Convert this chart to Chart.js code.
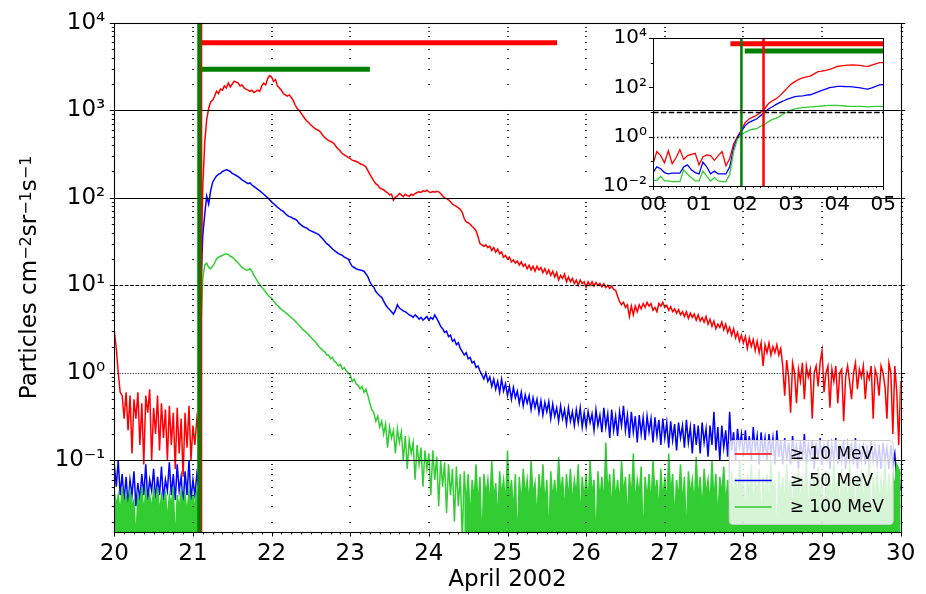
<!DOCTYPE html>
<html>
<head>
<meta charset="utf-8">
<title>Proton flux, April 2002</title>
<script src="https://cdn.jsdelivr.net/npm/chart.js@4.4.1/dist/chart.umd.min.js"></script>
<style>
  html, body { margin: 0; padding: 0; background: #fff; }
  #wrap { position: relative; width: 926px; height: 594px; }
  #main { position: absolute; left: 0; top: 0; }
  #inset { position: absolute; left: 585px; top: 20px; }
</style>
</head>
<body>
<div id="wrap">
  <canvas id="main" width="926" height="594"></canvas>
  <canvas id="inset" width="318" height="200"></canvas>
</div>
<script>
// integral proton flux, 20-30 April 2002, sampled every 0.025 day
const dayStart = 20;
const dayStep = 0.025;

const p10 = [
  3.0, 1.9, 1.0, 0.6, 0.55, 0.3, 0.6, 0.22, 0.55, 0.12, 0.5, 0.3, 0.6, 0.15, 0.45, 0.09, 0.55, 0.35, 0.65, 0.1,
  0.4, 0.2, 0.55, 0.13, 0.45, 0.18, 0.38, 0.1, 0.42, 0.15, 0.35, 0.08, 0.4, 0.12, 0.3, 0.065, 0.35, 0.14, 0.42, 0.1,
  0.25, 0.15, 0.3, 0.2, 13, 135, 430, 790, 1050, 1250, 1300, 1450, 1650, 1550, 1750, 1700, 1900, 1800, 2050, 1850,
  2000, 2150, 2100, 2050, 1900, 1950, 1800, 1750, 1700, 1650, 1700, 1600, 1650, 1700, 1650, 1900, 2050, 1950, 2300, 2500,
  2400, 2150, 2250, 1900, 1800, 1700, 1550, 1500, 1450, 1500, 1400, 1300, 1150, 1050, 1000, 930, 860, 800, 750, 720,
  680, 650, 620, 600, 590, 560, 520, 490, 470, 450, 440, 430, 410, 380, 360, 340, 320, 310, 300, 290,
  280, 270, 265, 260, 255, 245, 240, 235, 225, 205, 185, 170, 155, 145, 140, 130, 126, 124, 118, 115,
  108, 110, 94, 102, 105, 112, 108, 103, 110, 106, 104, 110, 107, 112, 115, 117, 115, 120, 118, 122,
  117, 115, 118, 116, 119, 117, 112, 105, 100, 98, 95, 90, 85, 82, 80, 77, 74, 68, 58, 53,
  52, 50, 47, 45, 42, 36, 30, 29, 28, 29, 27, 28, 25, 27, 24, 26, 23, 24, 21, 22,
  20, 21, 18.5, 19.5, 18, 19, 17, 18.5, 16.5, 17.5, 15.5, 17, 15, 16.5, 14.5, 16.5, 15, 16, 14, 15.5,
  13.5, 15, 13, 14.5, 12.5, 14, 11.5, 13, 12, 13.5, 11, 12.5, 11, 12, 10.5, 11.5, 10, 11.5, 10.5, 11,
  9.5, 11, 10, 11, 9.8, 10.8, 10, 10.5, 9.6, 10.4, 9.4, 10, 9.2, 9.8, 9.0, 8.8, 7.5, 6.5, 6.0, 6.4,
  5.6, 6.0, 4.4, 5.8, 4.6, 5.8, 5.0, 6.0, 5.4, 6.2, 5.6, 6.4, 5.8, 6.2, 5.2, 5.6, 5.0, 6.2, 5.8, 6.4,
  5.6, 5.9, 5.2, 5.7, 5.0, 5.4, 4.8, 5.3, 4.6, 5.0, 4.4, 5.0, 4.2, 4.8, 4.3, 4.7, 4.0, 4.6, 3.9, 4.3,
  3.8, 4.4, 3.6, 4.1, 3.4, 3.9, 3.2, 3.6, 3.3, 3.8, 3.1, 3.6, 2.9, 3.3, 2.7, 3.2, 2.5, 2.9, 2.3, 2.7,
  2.2, 2.6, 1.9, 2.5, 2.0, 2.4, 1.8, 2.3, 1.7, 2.2, 1.2, 2.1, 1.7, 2.2, 1.6, 2.0, 1.7, 2.1, 1.6, 1.9,
  1.2, 0.55, 1.4, 0.9, 0.35, 1.3, 1.0, 0.45, 1.1, 0.8, 1.3, 0.5, 1.2, 0.9, 1.1, 0.3, 1.0, 1.2, 0.7, 1.3,
  1.8, 0.6, 1.0, 1.2, 0.4, 1.1, 0.8, 1.2, 0.45, 1.0, 1.1, 0.28, 0.9, 1.2, 0.8, 0.5, 1.0, 1.3, 0.65, 1.1,
  0.9, 1.2, 0.5, 1.0, 0.85, 1.2, 0.3, 1.1, 0.9, 0.55, 1.2, 1.0, 0.7, 0.3, 1.3, 1.0, 0.2, 1.2, 0.6, 0.15,
  0.8
];

const p50 = [
  0.09, 0.05, 0.1, 0.04, 0.07, 0.035, 0.065, 0.03, 0.06, 0.04, 0.075, 0.03, 0.055, 0.035, 0.07, 0.04, 0.09, 0.035, 0.06, 0.045,
  0.08, 0.035, 0.065, 0.04, 0.085, 0.035, 0.06, 0.045, 0.095, 0.04, 0.07, 0.035, 0.09, 0.045, 0.065, 0.03, 0.075, 0.04, 0.1, 0.035,
  0.06, 0.04, 0.07, 0.05, 9, 37, 65, 105, 85, 120, 150, 165, 178, 185, 190, 200, 205, 210, 205, 200,
  190, 185, 180, 175, 168, 160, 155, 150, 145, 148, 140, 135, 130, 125, 120, 115, 110, 105, 100, 95,
  90, 86, 82, 78, 75, 72, 70, 66, 63, 61, 60, 58, 57, 55, 51, 49, 47, 46, 45, 43,
  42, 41, 40, 39, 38, 36, 34, 32, 30, 29, 27.5, 26, 25, 24, 23, 22.5, 22, 21, 20.5, 20,
  18, 16.5, 16, 15.5, 15.2, 15, 14.8, 14.5, 13.5, 12.5, 11, 10, 9.5, 8.5, 8, 7.6, 7.3, 6.6, 6.0, 5.6,
  5.3, 5.0, 4.7, 5.2, 6.0, 5.5, 5.3, 5.1, 5.0, 4.8, 4.6, 4.5, 4.3, 4.6, 4.4, 4.1, 4.3, 4.0, 4.2, 4.4,
  4.0, 4.3, 4.1, 4.6, 4.2, 3.8, 3.4, 3.2, 2.9, 3.0, 2.6, 2.7, 2.3, 2.4, 2.1, 2.2, 1.9, 1.75, 1.6, 1.7,
  1.45, 1.5, 1.3, 1.35, 1.15, 1.2, 1.05, 0.95, 0.85, 1.0, 0.8, 0.9, 0.7, 0.85, 0.65, 0.8, 0.6, 0.85, 0.62, 0.75,
  0.55, 0.7, 0.5, 0.68, 0.52, 0.62, 0.45, 0.6, 0.42, 0.56, 0.45, 0.55, 0.38, 0.52, 0.4, 0.5, 0.35, 0.48, 0.33, 0.46,
  0.36, 0.47, 0.3, 0.44, 0.32, 0.4, 0.28, 0.42, 0.3, 0.38, 0.26, 0.4, 0.28, 0.36, 0.25, 0.38, 0.27, 0.4, 0.24, 0.35,
  0.24, 0.36, 0.27, 0.34, 0.22, 0.38, 0.25, 0.33, 0.21, 0.4, 0.24, 0.34, 0.18, 0.38, 0.22, 0.32, 0.19, 0.36, 0.25, 0.42,
  0.22, 0.33, 0.18, 0.36, 0.21, 0.32, 0.16, 0.33, 0.2, 0.31, 0.17, 0.32, 0.21, 0.3, 0.16, 0.31, 0.19, 0.29, 0.15, 0.3,
  0.18, 0.27, 0.14, 0.28, 0.17, 0.26, 0.13, 0.27, 0.18, 0.25, 0.14, 0.29, 0.16, 0.24, 0.12, 0.26, 0.15, 0.25, 0.12, 0.27,
  0.16, 0.23, 0.11, 0.25, 0.15, 0.36, 0.13, 0.24, 0.1, 0.25, 0.14, 0.22, 0.11, 0.36, 0.13, 0.21, 0.1, 0.23, 0.14, 0.2,
  0.11, 0.22, 0.12, 0.19, 0.1, 0.24, 0.13, 0.19, 0.09, 0.21, 0.12, 0.18, 0.1, 0.2, 0.12, 0.18, 0.09, 0.22, 0.11, 0.17,
  0.09, 0.18, 0.1, 0.16, 0.09, 0.19, 0.11, 0.15, 0.08, 0.17, 0.1, 0.2, 0.09, 0.15, 0.11, 0.17, 0.08, 0.16, 0.1, 0.18,
  0.09, 0.15, 0.11, 0.17, 0.08, 0.15, 0.1, 0.18, 0.09, 0.14, 0.1, 0.17, 0.08, 0.15, 0.1, 0.16, 0.09, 0.18, 0.08, 0.14,
  0.1, 0.16, 0.09, 0.15, 0.08, 0.17, 0.1, 0.14, 0.09, 0.15, 0.08, 0.16, 0.1, 0.14, 0.08, 0.15, 0.09, 0.12, 0.06, 0.07,
  0.045
];

const p100 = [
  0.045, 0.03, 0.04, 0.025, 0.05, 0.03, 0.04, 0.028, 0.045, 0.03, 0.035, 0.012, 0.04, 0.03, 0.05, 0.025, 0.045, 0.03, 0.04, 0.028,
  0.045, 0.03, 0.05, 0.025, 0.04, 0.03, 0.045, 0.02, 0.04, 0.03, 0.05, 0.011, 0.04, 0.028, 0.045, 0.03, 0.04, 0.025, 0.045, 0.03,
  0.04, 0.028, 0.045, 0.035, 3.0, 12, 17, 18, 16, 15.5, 16.5, 18, 20, 21, 21.5, 22, 22.5, 23, 22.5, 21.5,
  21, 20, 19, 18, 17, 16, 15.5, 15, 15, 15.5, 14.5, 13, 12, 11, 10.2, 9.5, 9, 8.4, 7.8, 7.4,
  7.1, 6.6, 6.2, 5.9, 5.6, 5.3, 5.1, 4.9, 4.7, 4.5, 4.3, 4.1, 3.9, 3.7, 3.5, 3.3, 3.1, 3.0, 2.85, 2.7,
  2.55, 2.4, 2.3, 2.15, 2.0, 1.9, 1.8, 1.75, 1.6, 1.6, 1.45, 1.5, 1.35, 1.3, 1.2, 1.25, 1.1, 1.15, 1.05, 1.0,
  0.95, 0.8, 0.85, 0.75, 0.72, 0.66, 0.7, 0.6, 0.65, 0.55, 0.45, 0.38, 0.35, 0.28, 0.32, 0.24, 0.28, 0.2, 0.26, 0.14,
  0.24, 0.18, 0.22, 0.12, 0.23, 0.16, 0.21, 0.1, 0.19, 0.08, 0.17, 0.12, 0.16, 0.06, 0.15, 0.09, 0.14, 0.05, 0.13, 0.08,
  0.12, 0.04, 0.13, 0.06, 0.11, 0.03, 0.1, 0.05, 0.095, 0.025, 0.09, 0.04, 0.08, 0.02, 0.085, 0.03, 0.07, 0.012, 0.075, 0.03,
  0.07, 0.02, 0.06, 0.035, 0.09, 0.03, 0.065, 0.01, 0.07, 0.04, 0.06, 0.03, 0.1, 0.035, 0.055, 0.02, 0.075, 0.04, 0.06, 0.03,
  0.13, 0.035, 0.06, 0.025, 0.07, 0.01, 0.065, 0.03, 0.08, 0.04, 0.06, 0.03, 0.1, 0.04, 0.055, 0.02, 0.07, 0.035, 0.09, 0.03,
  0.06, 0.012, 0.075, 0.035, 0.06, 0.03, 0.11, 0.04, 0.065, 0.025, 0.07, 0.035, 0.08, 0.03, 0.06, 0.04, 0.09, 0.02, 0.065, 0.035,
  0.07, 0.03, 0.1, 0.04, 0.06, 0.01, 0.075, 0.035, 0.065, 0.03, 0.16, 0.04, 0.07, 0.025, 0.08, 0.035, 0.06, 0.03, 0.1, 0.04,
  0.065, 0.02, 0.07, 0.035, 0.12, 0.03, 0.06, 0.04, 0.085, 0.011, 0.065, 0.035, 0.07, 0.03, 0.1, 0.04, 0.06, 0.025, 0.08, 0.035,
  0.065, 0.03, 0.12, 0.04, 0.07, 0.02, 0.06, 0.035, 0.09, 0.03, 0.065, 0.012, 0.075, 0.04, 0.06, 0.03, 0.11, 0.035, 0.065, 0.025,
  0.08, 0.04, 0.06, 0.03, 0.1, 0.035, 0.07, 0.02, 0.065, 0.04, 0.085, 0.03, 0.06, 0.01, 0.075, 0.035, 0.065, 0.03, 0.1, 0.04,
  0.06, 0.025, 0.07, 0.035, 0.09, 0.03, 0.06, 0.04, 0.08, 0.02, 0.065, 0.035, 0.07, 0.03, 0.1, 0.04, 0.06, 0.012, 0.075, 0.035,
  0.065, 0.03, 0.09, 0.04, 0.06, 0.025, 0.07, 0.035, 0.08, 0.03, 0.06, 0.04, 0.1, 0.02, 0.065, 0.035, 0.07, 0.03, 0.085, 0.04,
  0.06, 0.011, 0.075, 0.035, 0.065, 0.03, 0.1, 0.04, 0.06, 0.025, 0.08, 0.035, 0.065, 0.03, 0.09, 0.04, 0.06, 0.02, 0.07, 0.035,
  0.08, 0.03, 0.06, 0.04, 0.1, 0.012, 0.065, 0.035, 0.075, 0.03, 0.06, 0.04, 0.09, 0.03, 0.07, 0.035, 0.065, 0.05, 0.09, 0.08,
  0.07
];

const seriesLabels = ['\u2265 10 MeV', '\u2265 50 MeV', '\u2265 100 MeV'];
const seriesColors = ['#ff0000', '#0000ff', '#32cd32'];

// event onsets and durations (day of April)
const onsetP100 = 21.08;
const onsetP10 = 21.1;
const barP10 = [21.07, 25.63];
const barP10Level = 5900;
const barP100 = [21.083, 23.25];
const barP100Level = 2950;
// after this day the >=100 MeV counts sit in the noise floor
const bandFrom = 24.45;

const dayTicks = [20, 21, 22, 23, 24, 25, 26, 27, 28, 29, 30];
const decadeTicks = [0.1, 1, 10, 100, 1000, 10000];
const decadeLabels = ['10\u207B\u00B9', '10\u2070', '10\u00B9', '10\u00B2', '10\u00B3', '10\u2074'];
const yMin = 0.0152;
const yMax = 10000;
// axis title pieces: [text, superscript?]
const yTitleParts = [['Particles cm', false], ['\u22122', true], ['sr', false], ['\u22121', true], ['s', false], ['\u22121', true]];

// reference levels across the plot
const refLevels = [10000, 1000, 100, 10, 1, 0.1];
const refDash = [[], [], [], [3.7, 1.6], [1, 1.65], []];

// zoom on the onset: 21 April 00:00-05:00, 5-minute samples
const insetStep = 5 / 60;
const insetP10 = [
  0.08, 0.25, 0.17, 0.087, 0.27, 0.08, 0.14, 0.30, 0.12, 0.17, 0.19, 0.21, 0.072, 0.15, 0.18, 0.17, 0.11, 0.17, 0.25, 0.066,
  0.13, 0.5, 1.0, 1.8, 3.7, 5.2, 6.2, 7.4, 9.5, 13, 21, 28, 34, 45, 65, 95, 135, 170, 210, 240,
  265, 285, 350, 430, 450, 490, 530, 600, 700, 740, 780, 800, 810, 800, 770, 720, 710, 800, 900, 1000,
  1000
];
const insetP50 = [
  0.035, 0.06, 0.05, 0.035, 0.031, 0.033, 0.033, 0.033, 0.06, 0.072, 0.045, 0.035, 0.031, 0.093, 0.06, 0.031, 0.04, 0.031, 0.031, 0.031,
  0.06, 0.35, 0.9, 1.6, 2.8, 3.8, 4.5, 5.2, 7.0, 9.5, 13, 16, 20, 24, 28, 33, 37, 42, 44, 45,
  48, 50, 57, 65, 75, 85, 97, 103, 110, 110, 108, 107, 104, 100, 96, 88, 84, 95, 110, 125,
  130
];
const insetP100 = [
  0.017, 0.017, 0.025, 0.016, 0.016, 0.015, 0.015, 0.015, 0.045, 0.03, 0.022, 0.016, 0.016, 0.04, 0.025, 0.016, 0.022, 0.016, 0.015, 0.015,
  0.03, 0.25, 0.8, 1.2, 1.5, 1.8, 2.0, 2.1, 2.6, 3.1, 4.0, 4.9, 5.5, 6.5, 8.5, 10, 12, 13.5, 14.5, 15,
  15.5, 16, 16.5, 17, 17.5, 18, 18.5, 18.5, 18.5, 18, 17.5, 17, 17, 17, 17, 16.5, 16, 16.5, 17, 17,
  17
];
const insetTicks = [0, 1, 2, 3, 4, 5];
const insetTickLabels = ['00', '01', '02', '03', '04', '05'];
const insetDecades = [0.01, 1, 100, 10000];
const insetDecadeLabels = ['10\u207B\u00B2', '10\u2070', '10\u00B2', '10\u2074'];
const insetMin = 0.01;
const insetMax = 10000;

Chart.defaults.font.family = 'DejaVu Sans';
Chart.defaults.color = '#000';

const days = p10.map((_, i) => Math.round((dayStart + i * dayStep) * 1000) / 1000);
const series = (vals) => vals.map((v, i) => ({x: days[i], y: v}));
const flat = (x0, x1, v) => [{x: x0, y: v}, {x: x1, y: v}];
const upright = (x0, lo, hi) => [{x: x0, y: lo}, {x: x0, y: hi}];

const lineBase = {pointRadius: 0, borderWidth: 1.5, tension: 0, clip: 0, fill: false};

function drawTicks(ctx, a, xs, ys) {
  ctx.save();
  ctx.strokeStyle = '#000';
  ctx.lineWidth = 1;
  ctx.beginPath();
  xs.forEach(([px, len]) => {
    const p = Math.round(px) + 0.5;
    ctx.moveTo(p, a.bottom);
    ctx.lineTo(p, a.bottom + len);
  });
  ys.forEach(([py, len, both]) => {
    const p = Math.round(py) + 0.5;
    ctx.moveTo(a.left - len, p);
    ctx.lineTo(a.left, p);
    if (both) {
      ctx.moveTo(a.right, p);
      ctx.lineTo(a.right + len, p);
    }
  });
  ctx.stroke();
  ctx.restore();
}

function drawYTitle(ctx, baseX, midY) {
  const fontFor = sup => (sup ? '16px' : '23px') + ' "DejaVu Sans"';
  let total = 0;
  const widths = yTitleParts.map(([t, sup]) => {
    ctx.font = fontFor(sup);
    const w = ctx.measureText(t).width;
    total += w;
    return w;
  });
  ctx.save();
  ctx.translate(baseX, midY);
  ctx.rotate(-Math.PI / 2);
  ctx.fillStyle = '#000';
  ctx.textBaseline = 'alphabetic';
  let pos = -total / 2;
  yTitleParts.forEach(([t, sup], i) => {
    ctx.font = fontFor(sup);
    ctx.fillText(t, pos, sup ? -5 : 0);
    pos += widths[i];
  });
  ctx.restore();
}

const mainDecor = {
  id: 'mainDecor',
  afterDatasetDraw(chart, args) {
    if (chart.data.datasets[args.index].key !== 'p100') return;
    const {ctx, chartArea: a, scales: {x, y}} = chart;
    ctx.save();
    ctx.beginPath();
    ctx.rect(a.left, a.top, a.right - a.left, a.bottom - a.top);
    ctx.clip();
    // daily markers, one dash per log sub-decade
    ctx.fillStyle = '#333';
    dayTicks.slice(1, -1).forEach(d => {
      const px = Math.round(x.getPixelForValue(d));
      for (let e = -2; e <= 3; e++) {
        for (let k = 1; k <= 9; k++) {
          const v = k * Math.pow(10, e);
          if (v < yMin || v > yMax) continue;
          ctx.fillRect(px - 1, Math.round(y.getPixelForValue(v)), 2, 1);
        }
      }
    });
    ctx.strokeStyle = '#000';
    ctx.lineWidth = 1;
    refLevels.forEach((v, i) => {
      const py = Math.round(y.getPixelForValue(v)) + 0.5;
      ctx.setLineDash(refDash[i]);
      ctx.beginPath();
      ctx.moveTo(a.left, py);
      ctx.lineTo(a.right, py);
      ctx.stroke();
    });
    ctx.restore();
  },
  afterDraw(chart) {
    const {ctx, chartArea: a, scales: {x, y}} = chart;
    ctx.save();
    ctx.strokeStyle = '#000';
    ctx.lineWidth = 1.1;
    ctx.strokeRect(Math.round(a.left) + 0.5, Math.round(a.top) + 0.5,
      Math.round(a.right) - Math.round(a.left), Math.round(a.bottom) - Math.round(a.top));
    ctx.restore();

    const xs = [];
    for (let d = 20; d <= 30.0001; d += 0.125) {
      const major = Math.abs(d - Math.round(d)) < 1e-6;
      xs.push([x.getPixelForValue(d), major ? 4.5 : 2.5]);
    }
    const ys = [];
    for (let e = -2; e <= 4; e++) {
      for (let k = 1; k <= 9; k++) {
        const v = k * Math.pow(10, e);
        if (v < yMin || v > yMax * 1.0001) continue;
        ys.push([y.getPixelForValue(v), k === 1 ? 4.5 : 2.5, true]);
      }
    }
    drawTicks(ctx, a, xs, ys);
    drawYTitle(ctx, 36, (a.top + a.bottom) / 2);

    // legend, lower right inside the plot
    const w = 164, h = 84;
    const lx = a.right - 8 - w, ly = a.bottom - 8 - h;
    ctx.save();
    ctx.beginPath();
    ctx.roundRect(lx + 0.5, ly + 0.5, w, h, 3.5);
    ctx.fillStyle = 'rgba(255,255,255,0.8)';
    ctx.fill();
    ctx.strokeStyle = '#cccccc';
    ctx.lineWidth = 1;
    ctx.stroke();
    ctx.font = '17px "DejaVu Sans"';
    ctx.textBaseline = 'middle';
    ctx.fillStyle = '#000';
    seriesLabels.forEach((label, i) => {
      const ry = ly + 14 + i * 26.5;
      ctx.strokeStyle = seriesColors[i];
      ctx.lineWidth = 1.5;
      ctx.beginPath();
      ctx.moveTo(lx + 6, ry);
      ctx.lineTo(lx + 43, ry);
      ctx.stroke();
      ctx.fillText(label, lx + 61, ry + 1);
    });
    ctx.restore();
  }
};

const mainChart = new Chart(document.getElementById('main'), {
  type: 'line',
  data: {
    datasets: [
      {...lineBase, key: 'onset100', data: upright(onsetP100, yMin, yMax), borderColor: '#008000', borderWidth: 4, order: 0},
      {...lineBase, key: 'onset10', data: upright(onsetP10, yMin, yMax), borderColor: '#ff0000', borderWidth: 3, order: 1},
      {...lineBase, key: 'bar10', data: flat(barP10[0], barP10[1], barP10Level), borderColor: '#ff0000', borderWidth: 5, order: 2},
      {...lineBase, key: 'bar100', data: flat(barP100[0], barP100[1], barP100Level), borderColor: '#008000', borderWidth: 5, order: 2},
      {...lineBase, key: 'p100', label: seriesLabels[2], data: series(p100), borderColor: seriesColors[2], order: 3},
      {...lineBase, key: 'p100band',
        data: p100.map((v, i) => ({x: days[i], y: (days[i] < onsetP100 || days[i] >= bandFrom) ? v : null})),
        borderColor: 'rgba(0,0,0,0)', borderWidth: 1, fill: 'start', backgroundColor: seriesColors[2], order: 4},
      {...lineBase, key: 'p50', label: seriesLabels[1], data: series(p50), borderColor: seriesColors[1], order: 5},
      {...lineBase, key: 'p10', label: seriesLabels[0], data: series(p10), borderColor: seriesColors[0], order: 6}
    ]
  },
  options: {
    responsive: false,
    animation: false,
    devicePixelRatio: 1,
    events: [],
    layout: {padding: {left: 0, top: 20, right: 25.3, bottom: 0}},
    plugins: {legend: {display: false}, tooltip: {enabled: false}},
    scales: {
      x: {
        type: 'linear', min: 20, max: 30,
        afterBuildTicks: s => { s.ticks = dayTicks.map(v => ({value: v})); },
        afterFit: s => { s.height = 62; },
        grid: {display: false, drawTicks: false},
        border: {display: false},
        ticks: {font: {size: 23}, color: '#000', padding: 8, maxRotation: 0, autoSkip: false,
          callback: v => String(v)},
        title: {display: true, text: 'April 2002', font: {size: 23}, color: '#000', padding: {top: 0, bottom: 0}}
      },
      y: {
        type: 'logarithmic', min: yMin, max: yMax,
        afterBuildTicks: s => { s.ticks = decadeTicks.map(v => ({value: v})); },
        afterFit: s => { s.width = 114.3; },
        grid: {display: false, drawTicks: false},
        border: {display: false},
        ticks: {font: {size: 23}, color: '#000', padding: 9, autoSkip: false,
          callback: v => decadeLabels[decadeTicks.indexOf(v)] || ''}
      }
    }
  },
  plugins: [mainDecor]
});

// inset: onset hours of 21 April
const insetOffset = {left: 585, top: 20};
const hours = insetP10.map((_, i) => i * insetStep);
const hseries = (vals) => vals.map((v, i) => ({x: hours[i], y: v}));
const toHour = d => (d - 21) * 24;

const insetDecor = {
  id: 'insetDecor',
  beforeDatasetsDraw(chart) {
    const {ctx, chartArea: a} = chart;
    ctx.save();
    ctx.fillStyle = '#fff';
    ctx.fillRect(a.left, a.top, a.right - a.left, a.bottom - a.top);
    ctx.restore();
  },
  afterDatasetDraw(chart, args) {
    if (chart.data.datasets[args.index].key !== 'p100') return;
    const {ctx, chartArea: a, scales: {y}} = chart;
    ctx.save();
    ctx.strokeStyle = '#000';
    ctx.lineWidth = 1.5;
    [[10, [5.5, 2.4]], [1, [1.5, 2.5]]].forEach(([v, dash]) => {
      const py = Math.round(y.getPixelForValue(v)) + 0.5;
      ctx.setLineDash(dash);
      ctx.beginPath();
      ctx.moveTo(a.left, py);
      ctx.lineTo(a.right, py);
      ctx.stroke();
    });
    ctx.restore();
  },
  afterDraw(chart) {
    const {ctx, chartArea: a, scales: {x, y}} = chart;
    ctx.save();
    // the main plot's 10^3 level runs across the inset
    const my = Math.round(mainChart.scales.y.getPixelForValue(1000) - insetOffset.top) + 0.5;
    ctx.strokeStyle = '#000';
    ctx.lineWidth = 1;
    ctx.beginPath();
    ctx.moveTo(a.left, my);
    ctx.lineTo(a.right, my);
    ctx.stroke();
    ctx.strokeRect(Math.round(a.left) + 0.5, Math.round(a.top) + 0.5,
      Math.round(a.right) - Math.round(a.left), Math.round(a.bottom) - Math.round(a.top));
    ctx.restore();
    const xs = [];
    for (let m = 0; m <= 300; m += 10) {
      xs.push([x.getPixelForValue(m / 60), m % 60 === 0 ? 4 : 2.2]);
    }
    const ys = [];
    for (let e = -2; e <= 4; e++) {
      ys.push([y.getPixelForValue(Math.pow(10, e)), e % 2 === 0 ? 4 : 2.2, false]);
    }
    drawTicks(ctx, a, xs, ys);
  }
};

new Chart(document.getElementById('inset'), {
  type: 'line',
  data: {
    datasets: [
      {...lineBase, key: 'onset100', data: upright(toHour(onsetP100), insetMin, insetMax), borderColor: '#008000', borderWidth: 2.5, order: 0},
      {...lineBase, key: 'onset10', data: upright(toHour(onsetP10), insetMin, insetMax), borderColor: '#ff0000', borderWidth: 2.5, order: 0},
      {...lineBase, key: 'bar10', data: flat(toHour(barP10[0]), toHour(barP10[1]), barP10Level), borderColor: '#ff0000', borderWidth: 5, order: 1},
      {...lineBase, key: 'bar100', data: flat(toHour(barP100[0]), toHour(barP100[1]), barP100Level), borderColor: '#008000', borderWidth: 5, order: 1},
      {...lineBase, key: 'p100', data: hseries(insetP100), borderColor: seriesColors[2], borderWidth: 1.3, order: 2},
      {...lineBase, key: 'p50', data: hseries(insetP50), borderColor: seriesColors[1], borderWidth: 1.3, order: 3},
      {...lineBase, key: 'p10', data: hseries(insetP10), borderColor: seriesColors[0], borderWidth: 1.3, order: 4}
    ]
  },
  options: {
    responsive: false,
    animation: false,
    devicePixelRatio: 1,
    events: [],
    layout: {padding: {left: 0, top: 12, right: 14, bottom: 0}},
    plugins: {legend: {display: false}, tooltip: {enabled: false}},
    scales: {
      x: {
        type: 'linear', min: 0, max: 5,
        afterBuildTicks: s => { s.ticks = insetTicks.map(v => ({value: v})); },
        afterFit: s => { s.height = 34; },
        grid: {display: false, drawTicks: false},
        border: {display: false},
        ticks: {font: {size: 20}, color: '#000', padding: 7, maxRotation: 0, autoSkip: false,
          callback: v => insetTickLabels[insetTicks.indexOf(v)] || ''}
      },
      y: {
        type: 'logarithmic', min: insetMin, max: insetMax,
        afterBuildTicks: s => { s.ticks = insetDecades.map(v => ({value: v})); },
        afterFit: s => { s.width = 68; },
        grid: {display: false, drawTicks: false},
        border: {display: false},
        ticks: {font: {size: 20}, color: '#000', padding: 6, autoSkip: false,
          callback: v => insetDecadeLabels[insetDecades.indexOf(v)] || ''}
      }
    }
  },
  plugins: [insetDecor]
});
</script>
</body>
</html>
